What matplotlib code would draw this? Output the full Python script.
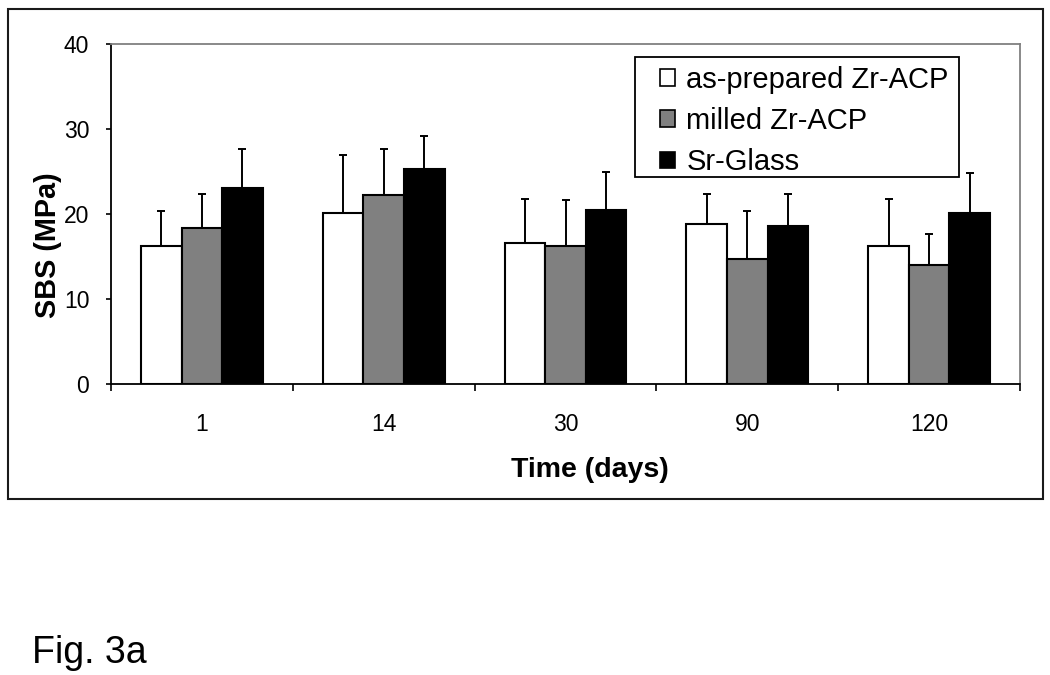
import matplotlib
matplotlib.use("Agg")
import matplotlib.pyplot as plt
import numpy as np
from matplotlib.patches import Rectangle, Patch

plt.rcParams["font.family"] = ["Liberation Sans", "DejaVu Sans"]

# Werte
days = ["1", "14", "30", "90", "120"]
series = ["as-prepared Zr-ACP", "milled Zr-ACP", "Sr-Glass"]
as_prepared = [16.2, 20.1, 16.6, 18.8, 16.2]
as_prepared_sd = [4.1, 6.9, 5.2, 3.6, 5.6]
milled = [18.3, 22.2, 16.2, 14.7, 14.0]
milled_sd = [4.1, 5.5, 5.4, 5.6, 3.7]
sr_glass = [23.1, 25.3, 20.5, 18.6, 20.1]
sr_glass_sd = [4.6, 3.9, 4.5, 3.8, 4.7]

colors = ["white", "#808080", "black"]

fig = plt.figure(figsize=(10.5, 6.75), dpi=100)
ax = fig.add_axes([111 / 1050, 1 - 384 / 675, 909 / 1050, 340 / 675])

x = np.arange(len(days))
w = 0.223
err_kw = dict(ecolor="black", elinewidth=1.4, capsize=3.2, capthick=1.4)
for i, (vals, sd) in enumerate([(as_prepared, as_prepared_sd),
                                (milled, milled_sd),
                                (sr_glass, sr_glass_sd)]):
    ax.bar(x + (i - 1) * w, vals, w, color=colors[i], edgecolor="black",
           linewidth=1.5, yerr=[np.zeros(len(sd)), sd], error_kw=err_kw,
           zorder=2)

ax.set_xlim(-0.5, len(days) - 0.5)
ax.set_ylim(0, 40)
ax.set_yticks([0, 10, 20, 30, 40])
ax.tick_params(axis="y", labelsize=16.5, length=3.6, width=1.2, pad=12)

# Trennstriche zwischen den Kategorien, Beschriftung in der Mitte
ax.set_xticks(np.arange(-0.5, len(days), 1.0))
ax.set_xticklabels([])
ax.tick_params(axis="x", which="major", length=5, width=1.2)
ax.set_xticks(x, minor=True)
ax.set_xticklabels(days, minor=True)
ax.tick_params(axis="x", which="minor", length=0, labelsize=16.5, pad=21)

for s in ["left", "bottom"]:
    ax.spines[s].set_color("black")
    ax.spines[s].set_linewidth(1.3)
for s in ["top", "right"]:
    ax.spines[s].set_color("#808080")
    ax.spines[s].set_linewidth(1.3)

# Legende ohne eigenen Rahmen, Rahmen separat
handles = [Patch(facecolor=c, edgecolor="black", linewidth=1.2) for c in colors]
ax.legend(handles, series, loc="upper left",
          bbox_to_anchor=((660 - 111) / 909, (384 - 66) / 340),
          frameon=False, fontsize=21, borderpad=0, borderaxespad=0,
          handlelength=0.5, handleheight=0.5, handletextpad=0.4,
          labelspacing=0.45)
ax.add_patch(Rectangle(((635 - 111) / 909, (384 - 176.7) / 340),
                       324 / 909, 120 / 340, transform=ax.transAxes,
                       fill=False, edgecolor="black", linewidth=1.3,
                       zorder=5, clip_on=False))

fig.text(590 / 1050, 1 - 476.7 / 675, "Time (days)", fontsize=20.5,
         fontweight="bold", ha="center", va="baseline")
fig.text(48 / 1050, 1 - 245.5 / 675, "SBS (MPa)", fontsize=20.8,
         fontweight="bold", rotation=90, ha="center", va="center")

# Rahmen um das Diagramm
fig.patches.append(Rectangle((7.5 / 1050, 1 - 499 / 675), 1035.5 / 1050,
                             490.5 / 675, transform=fig.transFigure,
                             fill=False, edgecolor="#1a1a1a", linewidth=1.5))

fig.text(31.7 / 1050, 1 - 663.3 / 675, "Fig. 3a", fontsize=27,
         ha="left", va="baseline")

fig.savefig("out.png", dpi=100)
